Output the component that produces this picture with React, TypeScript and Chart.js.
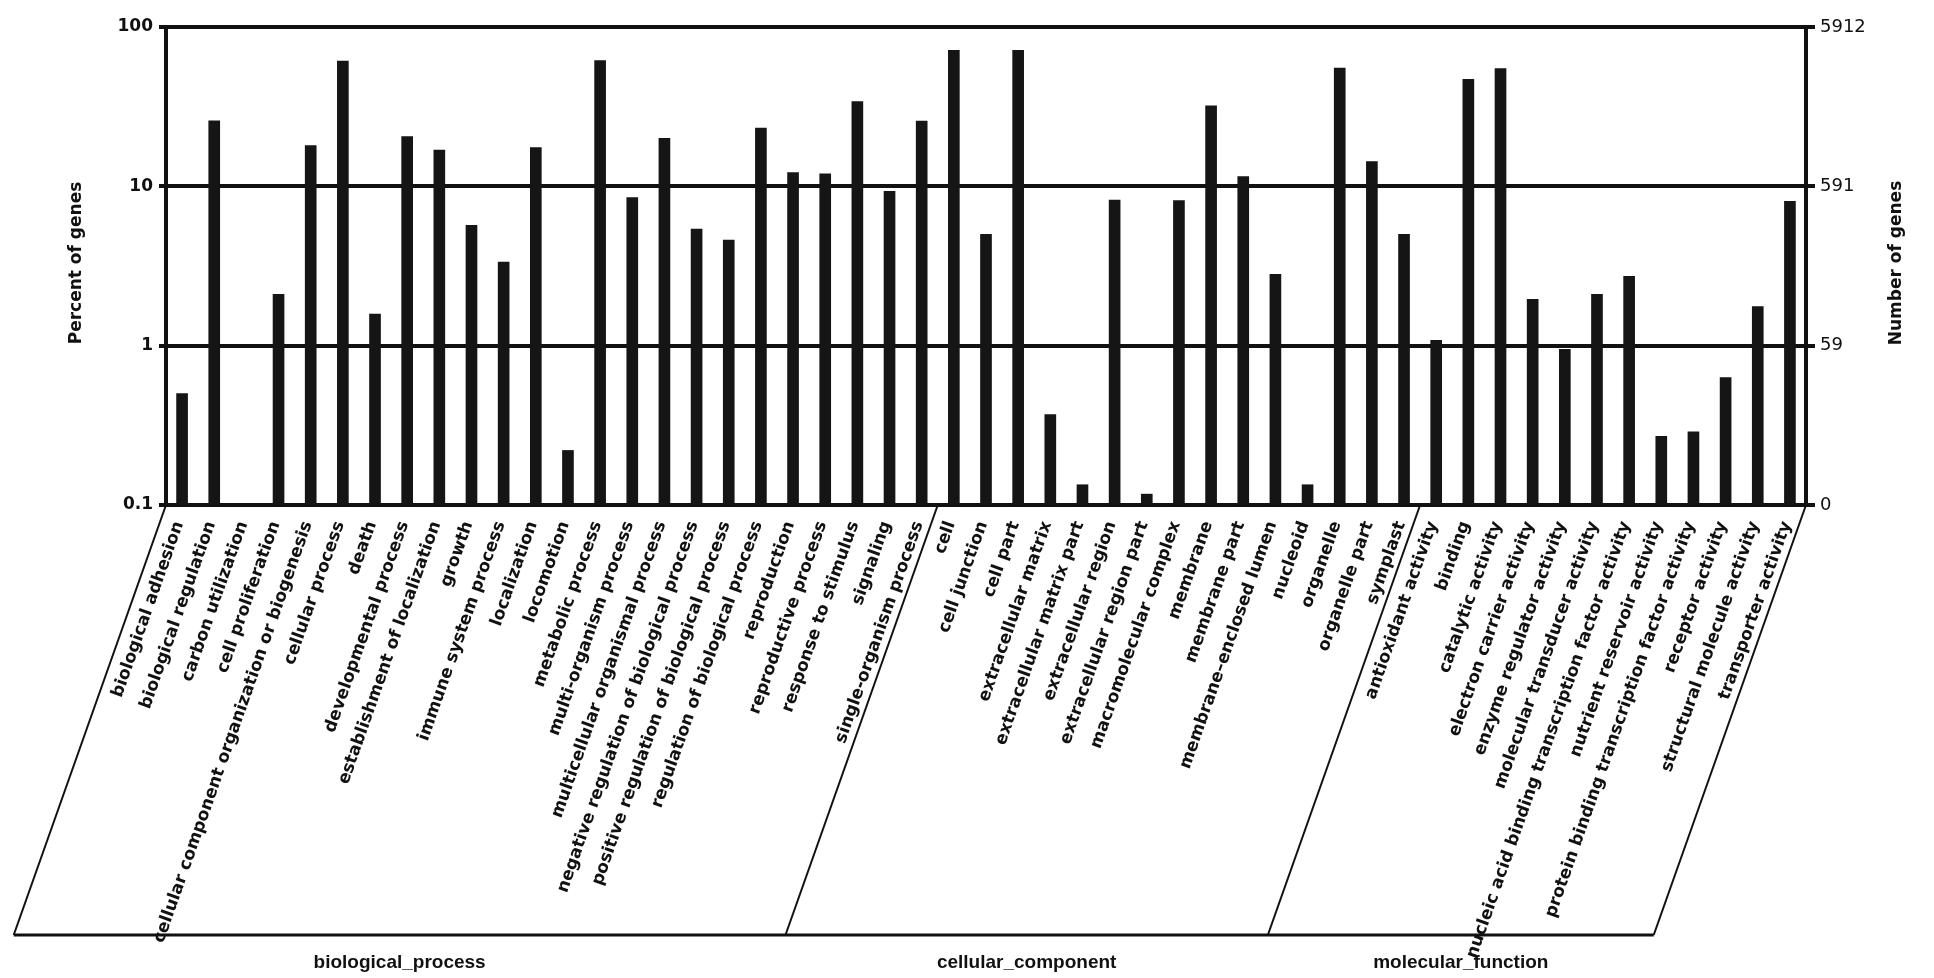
import React, { useEffect, useRef } from 'react';
import { Chart, registerables } from 'chart.js';

Chart.register(...registerables);

// ---------------- data ----------------
const BP_TERMS = [
  'biological adhesion', 'biological regulation', 'carbon utilization', 'cell proliferation',
  'cellular component organization or biogenesis', 'cellular process', 'death',
  'developmental process', 'establishment of localization', 'growth', 'immune system process',
  'localization', 'locomotion', 'metabolic process', 'multi-organism process',
  'multicellular organismal process', 'negative regulation of biological process',
  'positive regulation of biological process', 'regulation of biological process',
  'reproduction', 'reproductive process', 'response to stimulus', 'signaling',
  'single-organism process',
];
const BP_PERCENT = [
  0.5, 25.8, 0.017, 2.1, 18, 61, 1.58, 20.5, 16.9, 5.7, 3.35, 17.5, 0.22, 61.5, 8.5, 20,
  5.4, 4.6, 23.2, 12.2, 12, 34, 9.3, 25.7,
];
const CC_TERMS = [
  'cell', 'cell junction', 'cell part', 'extracellular matrix', 'extracellular matrix part',
  'extracellular region', 'extracellular region part', 'macromolecular complex', 'membrane',
  'membrane part', 'membrane\u2013enclosed lumen', 'nucleoid', 'organelle', 'organelle part', 'symplast',
];
const CC_PERCENT = [71.4, 5.0, 71.4, 0.37, 0.134, 8.2, 0.117, 8.15, 32, 11.5, 2.8, 0.134, 55.3, 14.3, 5.0];
const MF_TERMS = [
  'antioxidant activity', 'binding', 'catalytic activity', 'electron carrier activity',
  'enzyme regulator activity', 'molecular transducer activity',
  'nucleic acid binding transcription factor activity', 'nutrient reservoir activity',
  'protein binding transcription factor activity', 'receptor activity',
  'structural molecule activity', 'transporter activity',
];
const MF_PERCENT = [1.08, 47, 54.8, 1.95, 0.95, 2.1, 2.72, 0.27, 0.288, 0.63, 1.76, 8.05];

const GROUP_NAMES = ['biological_process', 'cellular_component', 'molecular_function'];
const PERCENT_TICKS = [0.1, 1, 10, 100];
const PERCENT_TICK_LABELS = ['0.1', '1', '10', '100'];
const COUNT_TICK_LABELS = ['0', '59', '591', '5912'];
const LEFT_TITLE = 'Percent of genes';
const RIGHT_TITLE = 'Number of genes';

// ---------------- derived ----------------
const LABELS = [...BP_TERMS, ...CC_TERMS, ...MF_TERMS];
const VALUES = [...BP_PERCENT, ...CC_PERCENT, ...MF_PERCENT];
const GROUP_SIZES = [BP_TERMS.length, CC_TERMS.length, MF_TERMS.length];

const FONT = '"DejaVu Sans", "Noto Sans", sans-serif';
const ANGLE = (70.5 * Math.PI) / 180;
const DROP = 430;
const W = 1934;
const H = 978;

const decorPlugin = {
  id: 'goDecor',
  afterDraw(chart: any) {
    const { ctx, chartArea } = chart;
    const xs = chart.scales.x;
    const bottom = chartArea.bottom;
    ctx.save();
    ctx.fillStyle = '#111';
    ctx.strokeStyle = '#111';

    // category labels
    ctx.font = `bold 17px ${FONT}`;
    ctx.textAlign = 'right';
    ctx.textBaseline = 'middle';
    LABELS.forEach((lab, i) => {
      const x = xs.getPixelForValue(i);
      ctx.save();
      ctx.translate(x - 3, bottom + 17);
      ctx.rotate(-ANGLE);
      ctx.fillText(lab, 0, 0);
      ctx.restore();
    });

    // group frame
    const slant = DROP / Math.tan(ANGLE);
    const bounds: number[] = [chartArea.left];
    let acc = 0;
    for (let g = 0; g < GROUP_SIZES.length - 1; g++) {
      acc += GROUP_SIZES[g];
      bounds.push((xs.getPixelForValue(acc - 1) + xs.getPixelForValue(acc)) / 2);
    }
    bounds.push(chartArea.right);
    ctx.lineWidth = 2;
    bounds.forEach((b) => {
      ctx.beginPath();
      ctx.moveTo(b, bottom);
      ctx.lineTo(b - slant, bottom + DROP);
      ctx.stroke();
    });
    ctx.lineWidth = 3;
    ctx.beginPath();
    ctx.moveTo(bounds[0] - slant, bottom + DROP);
    ctx.lineTo(bounds[bounds.length - 1] - slant, bottom + DROP);
    ctx.stroke();

    ctx.font = `bold 19px "Liberation Sans Narrow", "Liberation Sans", sans-serif`;
    ctx.textAlign = 'center';
    ctx.textBaseline = 'middle';
    GROUP_NAMES.forEach((name, g) => {
      const cx = (bounds[g] + bounds[g + 1]) / 2 - slant;
      ctx.fillText(name, cx, bottom + DROP + 28);
    });

    // axis titles
    const cy = (chartArea.top + chartArea.bottom) / 2;
    ctx.font = `bold 17px ${FONT}`;
    ctx.save();
    ctx.translate(chartArea.left - 89, cy - 3);
    ctx.rotate(-Math.PI / 2);
    ctx.fillText(LEFT_TITLE, 0, 0);
    ctx.restore();
    ctx.save();
    ctx.translate(chartArea.right + 91, cy - 3);
    ctx.rotate(-Math.PI / 2);
    ctx.fillText(RIGHT_TITLE, 0, 0);
    ctx.restore();

    ctx.restore();
  },
};

export default function App() {
  const ref = useRef<HTMLCanvasElement | null>(null);

  useEffect(() => {
    document.body.style.margin = '0';
    document.body.style.overflow = 'hidden';
    document.documentElement.style.overflow = 'hidden';
    if (!ref.current) return;
    const setTicks = (scale: any) => {
      scale.ticks = PERCENT_TICKS.map((v) => ({ value: v }));
    };
    const chart = new Chart(ref.current, {
      type: 'bar',
      data: {
        labels: LABELS,
        datasets: [
          {
            data: VALUES,
            backgroundColor: '#151515',
            borderWidth: 0,
            barThickness: 11,
          },
        ],
      },
      options: {
        animation: false,
        responsive: false,
        devicePixelRatio: 1,
        layout: { padding: { left: 0, right: 0, top: 27, bottom: 473 } },
        plugins: { legend: { display: false }, tooltip: { enabled: false } },
        scales: {
          x: { display: false, offset: true },
          y: {
            type: 'logarithmic',
            position: 'left',
            min: 0.1,
            max: 100,
            afterBuildTicks: setTicks,
            afterFit: (s: any) => { s.width = 166; },
            grid: { color: '#111', lineWidth: 4, drawTicks: true, tickLength: 7 },
            border: { display: true, color: '#111', width: 4 },
            ticks: {
              color: '#111',
              font: { family: FONT, size: 17, weight: 'bold' },
              padding: 6,
              callback: (_v: any, i: number) => PERCENT_TICK_LABELS[i],
            },
          },
          y2: {
            type: 'logarithmic',
            position: 'right',
            min: 0.1,
            max: 100,
            afterBuildTicks: setTicks,
            afterFit: (s: any) => { s.width = W - 1806; },
            grid: { drawOnChartArea: false, color: '#111', lineWidth: 4, drawTicks: true, tickLength: 9 },
            border: { display: true, color: '#111', width: 4 },
            ticks: {
              color: '#111',
              font: { family: FONT, size: 18 },
              padding: 5,
              callback: (_v: any, i: number) => COUNT_TICK_LABELS[i],
            },
          },
        },
      } as any,
      plugins: [decorPlugin],
    });
    return () => chart.destroy();
  }, []);

  return (
    <div style={{ width: W, height: H, position: 'relative', overflow: 'hidden', background: '#fff' }}>
      <canvas ref={ref} width={W} height={H} style={{ display: 'block', width: W, height: H }} />
    </div>
  );
}
